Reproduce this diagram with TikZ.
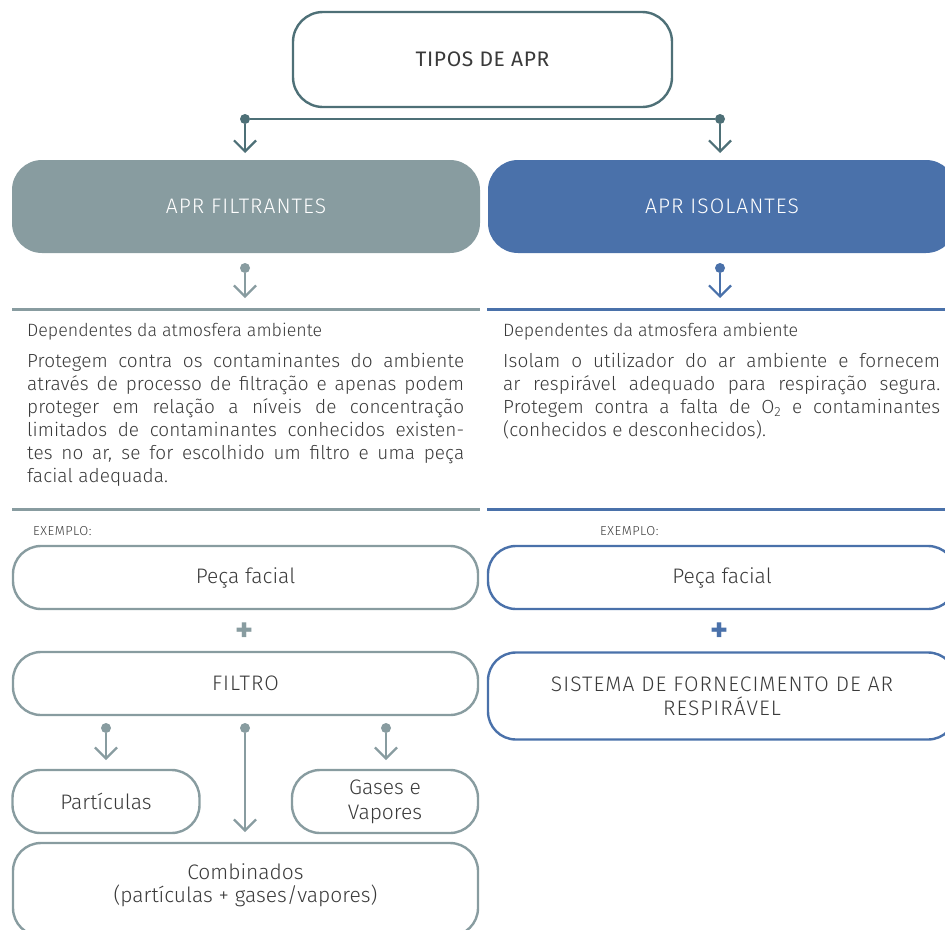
\documentclass[tikz,border=0pt]{standalone}
\usepackage{fontspec}
\setmainfont{Fira Sans Light}
\newfontfamily\firareg{Fira Sans}[LetterSpace=3]
\newfontfamily\capsfont{Fira Sans Light}[LetterSpace=5]
\newfontfamily\smallcaps{Fira Sans Light}[LetterSpace=4]
\newfontfamily\bodyfont{Fira Sans Light}[LetterSpace=0.5]
\newfontfamily\plusfont{Fira Sans Bold}
\usetikzlibrary{arrows.meta}
\definecolor{cTop}{HTML}{4E7077}
\definecolor{cGray}{HTML}{889CA0}
\definecolor{cBlue}{HTML}{4A71AA}
\definecolor{cText}{HTML}{3A3A3A}
\begin{document}
\tolerance=10000 \hbadness=10000 \hyphenpenalty=10000
\begin{tikzpicture}[x=1pt,y=-1pt,
 txt/.style={text=cText, font=\fontsize{17.8}{23}\selectfont, inner sep=0pt},
 bodytxt/.style={txt, font=\bodyfont\fontsize{19}{23}\selectfont, anchor=north west, text width=437pt, align=justify},
 box/.style={draw, line width=2.4pt, rounded corners=28pt, inner sep=0pt, minimum height=63pt, text=cText, font=\fontsize{21}{24}\selectfont, align=center},
 capsbox/.style={font=\capsfont\fontsize{21}{24}\selectfont},
 graybox/.style={box, draw=cGray},
 bluebox/.style={box, draw=cBlue},
 head/.style={rounded corners=30pt, minimum width=468pt, minimum height=93pt, text=white, font=\capsfont\fontsize{21}{24}\selectfont, inner sep=0pt},
 dot/.style={circle, fill, inner sep=0pt, minimum size=10pt},
 arr/.style={line width=2.2pt, -{Straight Barb[length=11pt,width=22pt]}},
 rulel/.style={line width=3pt},
 plus/.style={font=\plusfont\fontsize{34}{34}\selectfont, inner sep=0pt},
 small/.style={text=cText, font=\smallcaps\fontsize{13}{14}\selectfont, inner sep=0pt}
]
\useasboundingbox (0,0) rectangle (945,929);
\clip (0,0) rectangle (945,929);

% top
\node[box, draw=cTop, minimum width=379pt, minimum height=95pt, rounded corners=30pt, font=\firareg\fontsize{21}{24}\selectfont] (top) at (482.5,59.5) {TIPOS DE APR};
\node[dot, fill=cTop] (dl) at (245,119) {};
\node[dot, fill=cTop] (dr) at (720,119) {};
\draw[cTop, line width=2.2pt] (dl) -- (dr);
\coordinate (al) at (245,153);
\coordinate (ar) at (720,153);
\draw[arr, cTop] (dl) -- (al);
\draw[arr, cTop] (dr) -- (ar);

% headers
\node[head, fill=cGray] (hf) at (246,206.5) {APR FILTRANTES};
\node[head, fill=cBlue] (hi) at (722,206.5) {APR ISOLANTES};

\node[dot, fill=cGray] (dfl) at (245,268) {};
\node[dot, fill=cBlue] (dfr) at (720,268) {};
\coordinate (afl) at (245,298);
\coordinate (afr) at (720,298);
\draw[arr, cGray] (dfl) -- (afl);
\draw[arr, cBlue] (dfr) -- (afr);

% rules
\draw[rulel, cGray] (12,309) -- (480,309);
\draw[rulel, cBlue] (487,309) -- (945,309);
\draw[rulel, cGray] (12,509) -- (480,509);
\draw[rulel, cBlue] (487,509) -- (945,509);

% text blocks
\node[txt, anchor=base west] (lh) at (27,336) {Dependentes da atmosfera ambiente};
\node[txt, anchor=base west] (rh) at (503,336) {Dependentes da atmosfera ambiente};
\node[bodytxt] (lb) at (27,353) {Protegem contra os contaminantes do ambiente\linebreak através de processo de filtração e apenas podem\linebreak proteger em relação a níveis de concentração\linebreak limitados de contaminantes conhecidos existen-\linebreak tes no ar, se for escolhido um filtro e uma peça\linebreak facial adequada.};
\node[bodytxt] (rb) at (503,353) {Isolam o utilizador do ar ambiente e fornecem\linebreak ar respirável adequado para respiração segura.\linebreak Protegem contra a falta de O\textsubscript{2} e contaminantes\linebreak (conhecidos e desconhecidos).};

% exemplo
\node[small, anchor=west] (exl) at (33,531) {EXEMPLO:};
\node[small, anchor=west] (exr) at (600,531) {EXEMPLO:};

% left column
\node[graybox, minimum width=465pt] (pfl) at (245.5,577.5) {Peça facial};
\node[plus, text=cGray] (pl) at (245,632) {+};
\node[graybox, capsbox, minimum width=465pt] (fil) at (245.5,683.5) {FILTRO};

\node[dot, fill=cGray] (f1) at (106,728) {};
\node[dot, fill=cGray] (f2) at (245,728) {};
\node[dot, fill=cGray] (f3) at (386,728) {};
\coordinate (g1) at (106,760);
\coordinate (g2) at (245,832);
\coordinate (g3) at (386,760);
\draw[arr, cGray] (f1) -- (g1);
\draw[arr, cGray] (f2) -- (g2);
\draw[arr, cGray] (f3) -- (g3);

\node[graybox, minimum width=187pt] (par) at (106,801.5) {Partículas};
\node[graybox, minimum width=186pt, font=\fontsize{21}{25}\selectfont] (gas) at (385,801.5) {Gases e\\Vapores};
\node[graybox, minimum width=465pt, minimum height=93pt] (comb) at (245.5,889.5) {};
\node[txt, align=center, font=\fontsize{21}{23}\selectfont] (combt) at (245.5,885) {Combinados\\(partículas + gases/vapores)};

% right column
\node[bluebox, minimum width=468pt] (pfr) at (722,577.5) {Peça facial};
\node[plus, text=cBlue] (pr) at (720,632) {+};
\node[bluebox, capsbox, minimum width=468pt, minimum height=87pt] (sis) at (722,696) {SISTEMA DE FORNECIMENTO DE AR\\RESPIRÁVEL};
\end{tikzpicture}
\end{document}
